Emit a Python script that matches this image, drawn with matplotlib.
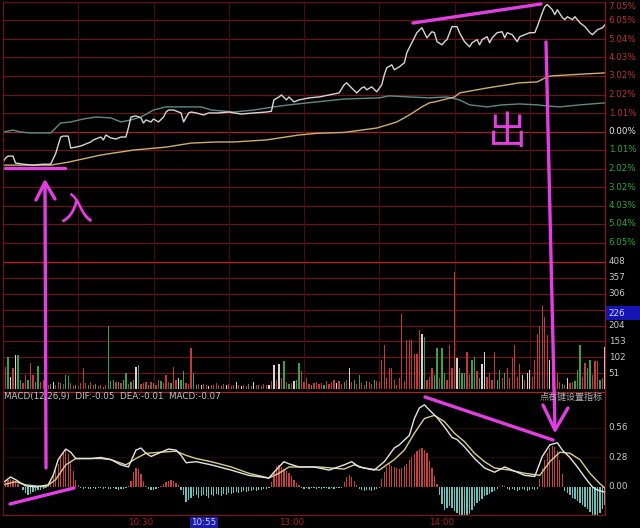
import matplotlib
matplotlib.use('Agg')
import matplotlib.pyplot as plt
from matplotlib.patches import Rectangle

W, H = 640, 528
CJK = ['Noto Sans CJK SC', 'DejaVu Sans']

# intraday price, % change vs previous close (minute 0 = 9:30, 240 = 15:00)
price_t = [0, 1, 2, 4, 5, 8, 12, 16, 19, 21,
           23, 24, 26, 27, 29, 31, 35, 36, 39, 40,
           41, 43, 45, 47, 49, 50, 51, 53, 55, 56,
           57, 59, 60, 62, 64, 65, 66, 68, 70, 71,
           72, 74, 75, 77, 80, 82, 84, 86, 90, 95,
           100, 105, 107, 108, 110, 111, 113, 114, 116, 118,
           122, 126, 130, 134, 136, 137, 139, 141, 143, 144,
           145, 147, 149, 151, 152, 153, 155, 156, 158, 160,
           161, 163, 165, 167, 168, 169, 171, 172, 173, 175,
           176, 177, 179, 181, 182, 184, 186, 187, 189, 190,
           191, 193, 194, 195, 197, 199, 200, 201, 203, 205,
           206, 208, 210, 212, 213, 215, 216, 217, 219, 220,
           221, 223, 224, 225, 227, 228, 230, 232, 234, 235,
           237, 239, 240]
price_pct = [-1.67, -1.45, -1.34, -1.34, -1.72, -1.78, -1.83, -1.78, -1.78, -1.2,
             -0.30, -0.25, -0.25, -0.90, -0.85, -0.79, -0.57, -0.46, -0.30, -0.46,
             -0.19, -0.35, -0.41, -0.30, -0.30, 0.2, 0.79, 0.85, 0.74, 0.46,
             0.63, 0.52, 0.68, 0.52, 0.79, 1.06, 1.17, 1.17, 1.06, 1.01,
             0.52, 1.01, 1.06, 1.01, 0.90, 1.01, 1.01, 1.01, 1.06, 0.95,
             1.01, 1.06, 1.10, 1.72, 1.88, 1.99, 1.72, 1.88, 1.61, 1.72,
             1.83, 1.88, 1.99, 2.10, 2.54, 2.65, 2.37, 2.10, 2.37, 2.43,
             2.27, 2.43, 2.16, 2.54, 3.08, 3.47, 3.63, 3.36, 3.52, 3.74,
             4.29, 4.83, 5.38, 5.65, 5.38, 5.10, 5.43, 5.38, 4.89, 4.72,
             4.89, 5.00, 5.71, 5.71, 5.38, 4.89, 4.61, 4.83, 5.00, 4.72,
             5.00, 5.16, 4.83, 5.10, 5.38, 5.43, 5.10, 5.38, 5.27, 4.89,
             5.16, 5.27, 5.38, 5.38, 5.71, 6.47, 6.80, 6.91, 6.63, 6.36,
             6.63, 6.20, 6.09, 6.25, 6.09, 6.25, 5.92, 5.71, 5.38, 5.27,
             5.54, 5.65, 5.81]

# average price line
avg_t = [0, 19, 26, 39, 52, 65, 75, 85, 92, 105,
         118, 125, 136, 149, 153, 157, 162, 167, 170, 172,
         180, 182, 193, 206, 213, 217, 219, 233, 240]
avg_pct = [-1.83, -1.83, -1.67, -1.28, -1.01, -0.85, -0.63, -0.57, -0.57, -0.46,
           -0.19, -0.10, -0.05, 0.19, 0.35, 0.52, 0.90, 1.34, 1.56, 1.61,
           1.88, 2.10, 2.37, 2.65, 2.70, 2.98, 3.03, 3.14, 3.19]

# index line (teal)
idx_t = [0, 4, 7, 11, 15, 19, 23, 27, 32, 37,
         43, 47, 51, 55, 60, 65, 72, 79, 83, 92,
         100, 108, 114, 125, 136, 150, 154, 162, 170, 177,
         182, 186, 193, 199, 206, 213, 217, 222, 230, 240]
idx_pct = [-0.03, 0.08, -0.03, -0.08, -0.08, -0.08, 0.46, 0.52, 0.68, 0.79,
           0.74, 0.52, 0.63, 0.79, 1.17, 1.34, 1.34, 1.34, 1.17, 1.06,
           1.17, 1.34, 1.45, 1.61, 1.77, 1.83, 1.94, 1.88, 1.83, 1.88,
           1.72, 1.45, 1.34, 1.45, 1.50, 1.45, 1.39, 1.34, 1.45, 1.56]

# volume per minute, with side: r = up, g = down, w = neutral
vol = [220, 70, 102, 38, 67, 108, 108, 29, 19, 45,
       29, 83, 45, 22, 73, 22, 30, 25, 13, 16,
       22, 13, 22, 19, 15, 45, 41, 20, 10, 12,
       10, 19, 67, 19, 12, 22, 13, 15, 10, 12,
       8, 13, 201, 25, 29, 22, 22, 18, 29, 51,
       16, 22, 29, 70, 77, 15, 19, 22, 12, 22,
       18, 13, 29, 25, 19, 45, 22, 18, 70, 30,
       35, 29, 58, 20, 16, 131, 51, 13, 15, 12,
       16, 13, 10, 14, 12, 18, 13, 10, 15, 12,
       16, 10, 13, 22, 12, 10, 14, 11, 16, 10,
       22, 12, 14, 10, 16, 12, 13, 25, 77, 30,
       80, 35, 90, 22, 16, 19, 25, 30, 83, 58,
       22, 35, 16, 12, 19, 22, 16, 19, 13, 25,
       16, 22, 30, 19, 25, 16, 22, 29, 67, 22,
       29, 16, 45, 19, 13, 25, 22, 16, 29, 25,
       22, 93, 140, 35, 67, 67, 29, 13, 35, 242,
       25, 156, 156, 156, 112, 112, 188, 178, 166, 29,
       38, 67, 45, 131, 35, 131, 51, 29, 140, 67,
       375, 99, 67, 51, 51, 118, 45, 93, 102, 58,
       35, 80, 118, 38, 51, 29, 118, 29, 61, 35,
       51, 67, 35, 99, 140, 38, 80, 45, 29, 51,
       61, 38, 93, 178, 204, 268, 230, 172, 93, 60,
       29, 51, 22, 16, 13, 35, 19, 22, 25, 61,
       140, 38, 83, 67, 93, 45, 90, 90, 29, 35,
       134]
vol_side = ("grgwrwggrr" "grrggrrgrg" "wrrgrggrrg" "rrrrgrrgrr" "grgggrgrgg"
            "rgrwgrrrgr" "grrgrrrgrr" "wggrrrggrw" "rrwrrrrgrw" "rrrwrwrrgr"
            "wrgrrrwrwr" "wrgrgrwggr" "rrrgrrrrgr" "rrrwrrgrwr" "grgrrgrrgr"
            "rrrrrrrrrr" "rrrrrrrwgr" "rrggrggrrr" "rwgggrrggr" "gwwrrrrggr"
            "grrrrrrwrw" "wrrrrrrrwr" "grrgrwrrgg" "grrggrrrgr" "w")

# MACD histogram per minute
macd_hist = [0.03, 0.05, 0.07, 0.08, 0.07, 0.05, 0.03, 0.00, -0.03, -0.06,
             -0.08, -0.07, -0.05, -0.04, -0.03, -0.03, -0.02, -0.01, 0.02, 0.06,
             0.10, 0.16, 0.22, 0.28, 0.33, 0.35, 0.31, 0.24, 0.15, 0.07,
             0.02, -0.01, -0.02, -0.01, -0.02, -0.02, -0.01, -0.02, -0.01, -0.01,
             -0.02, -0.01, -0.02, -0.02, -0.01, -0.02, -0.03, -0.02, -0.02, -0.01,
             0.01, 0.06, 0.14, 0.18, 0.17, 0.12, 0.06, 0.01, -0.02, -0.03,
             -0.03, -0.02, -0.01, 0.01, 0.03, 0.05, 0.06, 0.07, 0.06, 0.04,
             0.02, -0.03, -0.08, -0.14, -0.12, -0.10, -0.09, -0.08, -0.10, -0.09,
             -0.08, -0.09, -0.10, -0.08, -0.09, -0.07, -0.08, -0.09, -0.07, -0.08,
             -0.06, -0.07, -0.06, -0.05, -0.06, -0.05, -0.04, -0.05, -0.04, -0.04,
             -0.03, -0.04, -0.03, -0.03, -0.02, -0.02, -0.01, 0.05, 0.14, 0.20,
             0.21, 0.19, 0.17, 0.15, 0.13, 0.10, 0.07, 0.04, 0.02, -0.01,
             -0.02, -0.01, -0.02, -0.01, -0.01, -0.02, -0.01, -0.02, -0.01, -0.01,
             -0.02, -0.01, -0.02, -0.01, -0.01, -0.01, 0.05, 0.09, 0.11, 0.09,
             0.06, 0.02, -0.02, -0.03, -0.04, -0.03, -0.03, -0.04, -0.03, -0.02,
             -0.01, 0.08, 0.14, 0.19, 0.22, 0.20, 0.19, 0.18, 0.17, 0.18,
             0.20, 0.22, 0.26, 0.28, 0.31, 0.34, 0.36, 0.37, 0.35, 0.32,
             0.25, 0.18, 0.10, 0.03, -0.08, -0.16, -0.22, -0.20, -0.18, -0.20,
             -0.23, -0.25, -0.27, -0.28, -0.29, -0.28, -0.26, -0.22, -0.18, -0.15,
             -0.13, -0.11, -0.09, -0.08, -0.07, -0.05, -0.04, -0.02, 0.01, 0.02,
             0.01, -0.02, -0.03, -0.02, -0.03, -0.04, -0.03, -0.02, -0.03, -0.04,
             -0.03, -0.02, -0.03, -0.02, 0.08, 0.18, 0.26, 0.32, 0.37, 0.39,
             0.38, 0.34, 0.26, 0.12, -0.04, -0.06, -0.08, -0.10, -0.11, -0.13,
             -0.15, -0.17, -0.19, -0.21, -0.24, -0.27, -0.29, -0.28, -0.25, -0.21,
             -0.17]

dif_t = [0, 3, 5, 9, 13, 18, 20, 22, 25, 27,
         29, 31, 35, 39, 43, 47, 50, 53, 55, 57,
         59, 62, 66, 69, 71, 73, 77, 83, 91, 98,
         106, 108, 112, 114, 118, 124, 130, 136, 139, 142,
         148, 152, 156, 158, 162, 164, 166, 168, 170, 173,
         176, 179, 181, 184, 188, 192, 196, 200, 204, 208,
         212, 215, 218, 221, 223, 226, 229, 232, 235, 237,
         240]
dif_v = [0.04, 0.095, 0.07, 0.01, 0.0, 0.02, 0.11, 0.26, 0.36, 0.33,
         0.27, 0.27, 0.27, 0.28, 0.26, 0.21, 0.19, 0.35, 0.37, 0.32,
         0.29, 0.32, 0.36, 0.35, 0.30, 0.23, 0.24, 0.21, 0.16, 0.11,
         0.085, 0.14, 0.24, 0.22, 0.19, 0.19, 0.16, 0.21, 0.24, 0.19,
         0.16, 0.24, 0.37, 0.40, 0.49, 0.65, 0.75, 0.78, 0.73, 0.66,
         0.57, 0.47, 0.45, 0.38, 0.27, 0.18, 0.14, 0.19, 0.15, 0.11,
         0.10, 0.29, 0.40, 0.42, 0.35, 0.28, 0.19, 0.09, 0.0, -0.03,
         -0.05]
dea_t = [0, 5, 9, 17, 21, 25, 29, 39, 43, 49,
         53, 57, 63, 69, 73, 77, 83, 91, 98, 106,
         110, 114, 120, 126, 136, 140, 144, 150, 156, 160,
         164, 168, 172, 176, 180, 184, 188, 192, 196, 202,
         208, 214, 218, 222, 226, 230, 234, 238, 240]
dea_v = [0.02, 0.05, 0.02, 0.0, 0.07, 0.21, 0.27, 0.27, 0.26, 0.21,
         0.27, 0.32, 0.33, 0.34, 0.30, 0.27, 0.24, 0.19, 0.13, 0.085,
         0.13, 0.19, 0.19, 0.19, 0.17, 0.21, 0.18, 0.16, 0.26, 0.35,
         0.51, 0.65, 0.68, 0.62, 0.51, 0.43, 0.32, 0.24, 0.18, 0.16,
         0.13, 0.11, 0.24, 0.33, 0.32, 0.26, 0.13, 0.03, -0.01]

pct_labels = ['7.05%', '6.05%', '5.04%', '4.03%', '3.02%', '2.02%', '1.01%', '0.00%',
              '1.01%', '2.02%', '3.02%', '4.03%', '5.04%', '6.05%']
vol_ticks = [408, 357, 306, 204, 153, 102, 51]
macd_ticks = [0.56, 0.28, 0.00]
time_min = [60, 85, 120, 180]
time_labels = ['10:30', '10:55', '13:00', '14:00']

GRID = '#681616'
RED_TXT = '#c03030'
GREEN_TXT = '#2eaa2e'
PINK = '#e23ee2'

fig = plt.figure(figsize=(W / 100, H / 100), dpi=100, facecolor='black')


def panel(y0, y1):
    a = fig.add_axes([3 / W, 1 - y1 / H, 602 / W, (y1 - y0) / H])
    a.set_facecolor('black')
    a.set_xlim(0, 240)
    for s in a.spines.values():
        s.set_visible(False)
    a.set_xticks([])
    a.set_yticks([])
    return a


# ---- price panel
ax = panel(2, 261)
ax.set_ylim(-7.05, 7.05)
step = 7.05 / 7
for k in range(-7, 8):
    ax.axhline(k * step, color='#a52525' if k == 0 else GRID, lw=0.9, zorder=0)
for m in range(30, 240, 30):
    ax.axvline(m, color='#420e0e', lw=0.9, zorder=0)
ax.plot(idx_t, idx_pct, color='#5a8c86', lw=1.0)
ax.plot(avg_t, avg_pct, color='#cfae6a', lw=1.0)
ax.plot(price_t, price_pct, color='#d6d6d6', lw=1.0)
for i, lab in enumerate(pct_labels):
    v = (7 - i) * step
    c = RED_TXT if v > 0.01 else ('#e8e8e8' if abs(v) < 0.01 else GREEN_TXT)
    if i == 0:
        v -= 0.22  # keep the top label inside the picture
    ax.text(1.006, v, lab, transform=ax.get_yaxis_transform(), color=c,
            fontsize=6.3, va='center', ha='left')

# ---- volume panel
axv = panel(262, 389)
axv.set_ylim(0, 408)
for v in range(51, 409, 51):
    axv.axhline(v, color='#a52525' if v == 408 else GRID, lw=0.9, zorder=0)
for m in range(30, 240, 30):
    axv.axvline(m, color='#420e0e', lw=0.9, zorder=0)
side_col = {'r': '#c23a3a', 'g': '#3aa24a', 'w': '#d4d4d4'}
axv.bar(range(len(vol)), vol, width=0.5, color=[side_col[s] for s in vol_side], lw=0)
for v in vol_ticks:
    axv.text(1.006, v, str(v), transform=axv.get_yaxis_transform(), color='#c8c8c8',
             fontsize=6.3, va='center', ha='left')

# ---- MACD panel
axm = panel(393, 515)
axm.set_ylim(-0.266, 0.892)
for v in macd_ticks[:2]:
    axm.axhline(v, color='#2a0808', lw=0.8, zorder=0)
axm.bar(range(len(macd_hist)), macd_hist, width=0.5,
        color=['#c84040' if h >= 0 else '#66c4bc' for h in macd_hist], lw=0)
axm.plot(dea_t, dea_v, color='#d6cf8a', lw=1.0)
axm.plot(dif_t, dif_v, color='#e4e4e4', lw=1.0)
for v in macd_ticks:
    axm.text(1.006, v, '%.2f' % v, transform=axm.get_yaxis_transform(), color='#c8c8c8',
             fontsize=6.3, va='center', ha='left')
for m, lab in zip(time_min, time_labels):
    if lab == '10:55':
        axm.text(m, -0.06, lab, transform=axm.get_xaxis_transform(), color='#c8d0ff',
                 fontsize=6.3, ha='right', va='center',
                 bbox=dict(boxstyle='square,pad=0.15', fc='#1c1ca8', ec='none'))
    else:
        axm.text(m, -0.06, lab, transform=axm.get_xaxis_transform(), color='#a82222',
                 fontsize=6.3, ha='right', va='center')

# ---- frame, labels and hand-drawn annotations (pixel coordinates)
ov = fig.add_axes([0, 0, 1, 1])
ov.set_xlim(0, W)
ov.set_ylim(H, 0)
ov.axis('off')
ov.patch.set_alpha(0)
for y, c in [(2, '#5a1212'), (261.5, '#b02424'), (392, '#a52222'), (515, '#7a1818')]:
    ov.plot([3, 605], [y, y], color=c, lw=0.9)
ov.plot([3, 3], [2, 515], color='#6a1414', lw=0.9)
ov.plot([605, 605], [2, 515], color='#8a1a1a', lw=0.9)
ov.add_patch(Rectangle((605.5, 306), 34, 14, fc='#1414b4', ec='none'))
ov.text(608, 313, '226', color='#d8d8ff', fontsize=6.3, va='center', ha='left')
ov.text(4, 397, 'MACD(12,26,9)  DIF:-0.05  DEA:-0.01  MACD:-0.07', color='#c4c4c4',
        fontsize=6.3, va='center', ha='left')
ov.text(603, 397, '点右键设置指标', color='#b4b4b4', fontsize=6.5, va='center', ha='right',
        family=CJK)

pk = dict(color=PINK, lw=2.4, solid_capstyle='round', solid_joinstyle='round')
ov.plot([5, 65], [168, 168], **pk)
ov.plot([46, 45], [468, 183], **pk)
ov.plot([36, 45, 55], [200, 182, 199], **pk)
ov.plot([10, 74], [504, 488], **pk)
ov.plot([413, 541], [23, 4], **pk)
ov.plot([546, 555], [42, 430], **pk)
ov.plot([543, 555, 568], [405, 430, 408], **pk)
ov.plot([425, 553], [397, 440], **pk)
ov.text(76, 210, '入', color=PINK, fontsize=24, ha='center', va='center', family=CJK)
ov.text(507, 133, '出', color=PINK, fontsize=28, ha='center', va='center', family=CJK)

fig.savefig('out.png', dpi=100, facecolor='black')
